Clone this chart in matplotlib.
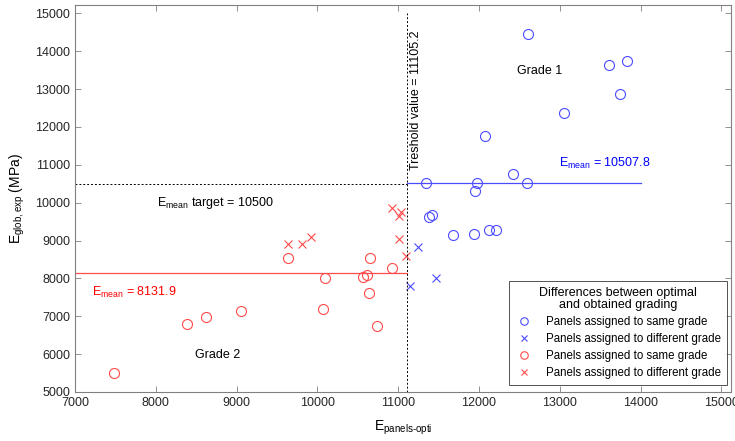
import matplotlib
matplotlib.use("Agg")
import matplotlib.pyplot as plt

plt.rcParams['font.family'] = ['Liberation Sans', 'DejaVu Sans']
plt.rcParams['mathtext.fontset'] = 'custom'
plt.rcParams['mathtext.rm'] = 'Liberation Sans'
plt.rcParams['mathtext.it'] = 'Liberation Sans'

# grade 1, same grade (blue circles)
g1_same_x = [12607, 13610, 13833, 13746, 13053, 12075, 12422, 11349, 11977, 12595,
             11952, 11385, 11422, 11678, 11942, 12120, 12210]
g1_same_y = [14453, 13636, 13742, 12863, 12361, 11763, 10752, 10530, 10515, 10515,
             10320, 9633, 9678, 9158, 9177, 9290, 9273]
# grade 1, different grade (blue crosses)
g1_diff_x = [11241, 11464, 11146]
g1_diff_y = [8826, 8016, 7787]
# grade 2, same grade (red circles)
g2_same_x = [7486, 8386, 8617, 9054, 9632, 10069, 10094, 10568, 10618, 10643,
             10651, 10734, 10927]
g2_same_y = [5510, 6797, 6987, 7137, 8540, 7202, 8000, 8035, 8096, 7608,
             8549, 6742, 8272]
# grade 2, different grade (red crosses)
g2_diff_x = [9632, 9814, 9917, 10923, 11030, 11010, 11010, 11092]
g2_diff_y = [8917, 8917, 9102, 9871, 9766, 9660, 9045, 8596]

threshold = 11105.2
target = 10500
mean_g1 = 10507.8
mean_g2 = 8131.9

blue = '#4b4bff'
red = '#ff4b4b'

fig = plt.figure(figsize=(7.35, 4.41), dpi=100)
ax = fig.add_axes([75 / 735, 49 / 441, 656 / 735, 387 / 441])

ax.plot(g1_same_x, g1_same_y, 'o', mfc='none', mec=blue, ms=7.2, mew=0.8,
        label='Panels assigned to same grade')
ax.plot(g1_diff_x, g1_diff_y, 'x', color=blue, ms=5.5, mew=0.8,
        label='Panels assigned to different grade')
ax.plot(g2_same_x, g2_same_y, 'o', mfc='none', mec=red, ms=7.2, mew=0.8,
        label='Panels assigned to same grade')
ax.plot(g2_diff_x, g2_diff_y, 'x', color=red, ms=5.5, mew=0.8,
        label='Panels assigned to different grade')

# mean lines and thresholds
ax.plot([7000, threshold], [mean_g2, mean_g2], color=red, lw=0.9)
ax.plot([threshold, 14000], [mean_g1, mean_g1], color=blue, lw=0.9)
ax.plot([7000, threshold], [target, target], color='k', ls=(0, (2, 2)), lw=0.7)
ax.plot([threshold, threshold], [5000, 15000], color='k', ls=(0, (2, 2)), lw=0.7)

fs = 9
ax.text(12755, 13475, 'Grade 1', fontsize=fs, ha='center', va='center')
ax.text(8768, 5990, 'Grade 2', fontsize=fs, ha='center', va='center')
ax.text(8010, 10000, r'E$_{\mathrm{mean}}$ target = 10500', fontsize=fs, va='center')
ax.text(7210, 7620, r'E$_{\mathrm{mean}}$ = 8131.9', fontsize=fs, va='center', color='red')
ax.text(12995, 11040, r'E$_{\mathrm{mean}}$ = 10507.8', fontsize=fs, va='center', color='blue')
ax.text(11217, 10870, 'Treshold value = 11105.2', fontsize=fs, rotation=90,
        ha='center', va='bottom')

ax.set_xlim(7000, 15120)
ax.set_ylim(5000, 15220)
ax.set_xticks(range(7000, 15001, 1000))
ax.set_yticks(range(5000, 15001, 1000))
ax.tick_params(direction='in', top=True, right=True, labelsize=fs,
               length=4, width=0.6, colors='#808080', labelcolor='#262626')
for s in ax.spines.values():
    s.set_color('#808080')
    s.set_linewidth(0.8)

ax.set_xlabel(r'E$_{\mathrm{panels\text{-}opti}}$', fontsize=fs + 1, labelpad=7)
ax.set_ylabel(r'E$_{\mathrm{glob,exp}}$ (MPa)', fontsize=fs + 1, labelpad=6)

leg = ax.legend(loc='lower right', bbox_to_anchor=(0.994, 0.018), borderaxespad=0,
                fontsize=8.3, title='Differences between optimal\nand obtained grading',
                title_fontsize=fs, frameon=True, fancybox=False, handlelength=1.4,
                handletextpad=1.2, labelspacing=0.42, markerscale=0.75,
                borderpad=0.55)
leg.get_title().set_multialignment('center')
leg.get_title().set_linespacing(1.05)
leg.get_frame().set_edgecolor('#262626')
leg.get_frame().set_linewidth(0.7)

fig.savefig('out.png', dpi=100)
